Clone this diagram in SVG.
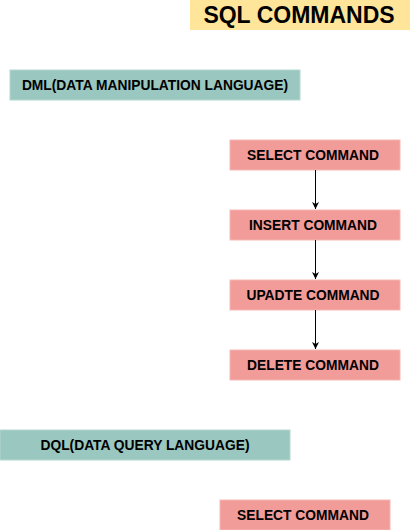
<svg xmlns="http://www.w3.org/2000/svg" width="410" height="530" viewBox="0 0 410 530">
<defs>
<style>
.t{font-family:"Liberation Sans",Arial,sans-serif;font-weight:bold;fill:#000;text-anchor:middle;dominant-baseline:central}
.lbl{font-size:13.8px}
.teal{fill:#9AC7BF;stroke:#B4D8D0;stroke-width:1}
.pink{fill:#F19C99;stroke:#F5B8B5;stroke-width:1}
.title{fill:#FFE599;stroke:none}
.conn{stroke:#000;stroke-width:1;fill:none}
</style>
<marker id="arr" markerWidth="8" markerHeight="8" refX="7" refY="4" orient="auto" markerUnits="userSpaceOnUse">
<path d="M0,0.5 L7,4 L0,7.5 L2,4 Z" fill="#000"/>
</marker>
</defs>
<rect width="410" height="530" fill="#fff"/>
<g id="title">
<rect class="title" x="190" y="0" width="220" height="30"/>
<text class="t" x="299" y="14.5" font-size="23">SQL COMMANDS</text>
</g>
<g id="dml">
<rect class="teal" x="10" y="70" width="290" height="30"/>
<text class="t lbl" x="155" y="85">DML(DATA MANIPULATION LANGUAGE)</text>
</g>
<g id="select1">
<rect class="pink" x="230" y="140" width="170" height="30"/>
<text class="t lbl" x="313" y="155">SELECT COMMAND</text>
</g>
<g id="insert">
<rect class="pink" x="230" y="210" width="170" height="30"/>
<text class="t lbl" x="313" y="225">INSERT COMMAND</text>
</g>
<g id="update">
<rect class="pink" x="230" y="280" width="170" height="30"/>
<text class="t lbl" x="313" y="295">UPADTE COMMAND</text>
</g>
<g id="delete">
<rect class="pink" x="230" y="350" width="170" height="30"/>
<text class="t lbl" x="313" y="365">DELETE COMMAND</text>
</g>
<g id="dql">
<rect class="teal" x="0" y="430" width="290" height="30"/>
<text class="t lbl" x="145" y="445">DQL(DATA QUERY LANGUAGE)</text>
</g>
<g id="select2">
<rect class="pink" x="220" y="500" width="170" height="30"/>
<text class="t lbl" x="303" y="515">SELECT COMMAND</text>
</g>
<g id="connectors">
<line class="conn" x1="315.5" y1="170" x2="315.5" y2="209" marker-end="url(#arr)"/>
<line class="conn" x1="315.5" y1="240" x2="315.5" y2="279" marker-end="url(#arr)"/>
<line class="conn" x1="315.5" y1="310" x2="315.5" y2="349" marker-end="url(#arr)"/>
</g>
</svg>
